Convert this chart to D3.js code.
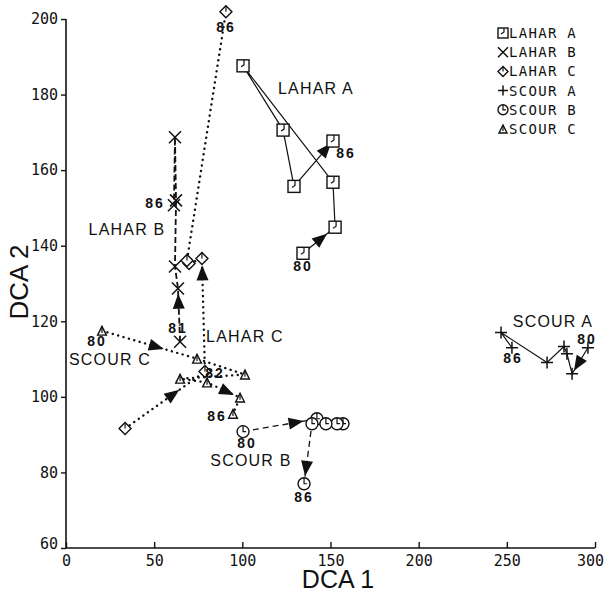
<!DOCTYPE html>
<html>
<head>
<meta charset="utf-8">
<script src="https://cdn.jsdelivr.net/npm/d3@7"></script>
<style>
  body { margin: 0; background: #fff; }
  svg { display: block; }
  text { fill: #111; }
</style>
</head>
<body>
<svg width="607" height="592"></svg>
<script>
const X_TICKS = [0, 50, 100, 150, 200, 250, 300]
const Y_TICKS = [60, 80, 100, 120, 140, 160, 180, 200]

// [year, DCA 1, DCA 2]
const laharA = [[80, 134.4, 138.0], [81, 152.6, 144.9], [82, 151.4, 156.8], [83, 100.4, 187.6],
  [84, 123.1, 170.6], [85, 129.3, 155.7], [86, 151.4, 167.7]]
const laharB = [[81, 64.7, 114.6], [82, 63.5, 128.7], [83, 61.8, 134.5], [84, 62.4, 152.0],
  [85, 61.8, 168.7], [86, 61.2, 150.7]]
const laharC = [[81, 33.5, 91.6], [82, 78.8, 106.7], [83, 77.1, 136.6], [84, 69.8, 135.3],
  [85, 68.6, 136.1], [86, 90.7, 201.9]]
const scourA = [[80, 296.0, 113.0], [81, 287.0, 106.1], [82, 284.1, 111.4], [83, 282.4, 113.3],
  [84, 272.8, 109.1], [85, 246.7, 117.0], [86, 252.9, 113.0]]
const scourB = [[80, 100.4, 90.8], [81, 142.3, 94.2], [82, 157.1, 92.9], [83, 153.7, 92.9],
  [84, 147.4, 92.9], [85, 139.5, 92.9], [86, 135.0, 77.0]]
const scourC = [[80, 20.4, 117.5], [81, 74.3, 110.1], [82, 101.5, 105.9], [83, 64.7, 104.8],
  [84, 80.0, 103.8], [85, 98.7, 99.8], [86, 94.7, 95.5]]

const NAMES = ['LAHAR A', 'LAHAR B', 'LAHAR C', 'SCOUR A', 'SCOUR B', 'SCOUR C']
const VALUES = [laharA, laharB, laharC, scourA, scourB, scourC]
// segments (by start index) that carry a direction arrow
const ARROWS = [[0, 5], [0], [0, 1], [0], [0, 5], [0, 4]]
// years written next to the points
const YEAR_LABELS = [[80, 86], [81, 86], [82, 86], [80, 86], [80, 86], [80, 86]]

// drawing options, not data
const STYLE = {
  'LAHAR A': { marker: 'square', dash: null, width: 1.2, name: [316, 94], arrowAt: [0.75, 0.95], years: { 80: [0, 13], 86: [13, 12] } },
  'LAHAR B': { marker: 'cross', dash: '6,3', width: 1.8, name: [127, 235], arrowAt: [0.9], years: { 81: [-2, -14], 86: [-19, -2] } },
  'LAHAR C': { marker: 'diamond', dash: '0.1,5.5', width: 2.4, name: [245, 342], arrowAt: [0.68, 0.94], years: { 82: [10, 1], 86: [0, 15] } },
  'SCOUR A': { marker: 'plus', dash: null, width: 1.2, name: [553, 327], arrowAt: [0.88], years: { 80: [-1, -9], 86: [1, 10] } },
  'SCOUR B': { marker: 'circle', dash: '6,4', width: 1.3, name: [251, 466], arrowAt: [0.82, 0.87], years: { 80: [4, 11], 86: [0, 13] } },
  'SCOUR C': { marker: 'triangle', dash: '0.1,5.5', width: 2.4, name: [110, 365], arrowAt: [0.65, 0.82], years: { 80: [-5, 10], 86: [-16, 2] } }
}

const svg = d3.select('svg')
const x = d3.scaleLinear().domain([0, 300]).range([66, 595])
const y = d3.scaleLinear().domain([60, 200]).range([548, 19])

const axisFont = '"DejaVu Sans Mono", monospace'
const textFont = 'Arial, "Liberation Sans", sans-serif'

// axes
const gx = svg.append('g')
  .attr('transform', `translate(0,${y(60)})`)
  .call(d3.axisBottom(x).tickValues(X_TICKS).tickSize(-6).tickPadding(7))
const gy = svg.append('g')
  .attr('transform', `translate(${x(0)},0)`)
  .call(d3.axisLeft(y).tickValues(Y_TICKS).tickSize(5).tickPadding(3))

for (const g of [gx, gy]) {
  g.select('.domain').attr('stroke', '#111').attr('stroke-width', 1.6)
  g.selectAll('.tick line').attr('stroke', '#111').attr('stroke-width', 1.4)
  g.selectAll('.tick text')
    .attr('fill', '#111')
    .style('font-family', axisFont)
    .style('font-size', '15px')
}
gy.select('.domain').attr('d', `M-0,${y(200)}V${y(60)}`)
gx.select('.domain').attr('d', `M${x(0)},0H${x(300)}`)
gy.selectAll('.tick text').filter(d => d === 60).attr('dy', '0.05em')
gx.selectAll('.tick text').filter(d => d === 300).attr('dx', '-5')

svg.append('text')
  .attr('x', 338).attr('y', 588)
  .attr('text-anchor', 'middle')
  .style('font-family', textFont)
  .style('font-size', '25px')
  .text('DCA 1')

svg.append('text')
  .attr('transform', 'translate(28,282) rotate(-90)')
  .attr('text-anchor', 'middle')
  .style('font-family', textFont)
  .style('font-size', '26px')
  .text('DCA 2')

// marker glyphs, centred on 0,0
function marker (g, type, s) {
  const h = s / 2
  const outline = sel => sel.attr('fill', 'white').attr('stroke', '#111').attr('stroke-width', 1.4)
  const tick = d => g.append('path').attr('d', d).attr('stroke', '#111').attr('fill', 'none').attr('stroke-width', 1.2)
  if (type === 'square') {
    outline(g.append('rect').attr('x', -h).attr('y', -h).attr('width', s).attr('height', s))
    tick(`M1,${-h}V-1L-2,1`)
  } else if (type === 'circle') {
    outline(g.append('circle').attr('r', h))
    tick(`M0,${-h}V0H3`)
  } else if (type === 'diamond') {
    outline(g.append('path').attr('d', `M0,${-h}L${h},0L0,${h}L${-h},0Z`))
    tick(`M0,${-h}V0`)
  } else if (type === 'triangle') {
    const t = s * 0.8
    outline(g.append('path').attr('d', `M0,${-t / 2}L${t / 2},${t / 2}L${-t / 2},${t / 2}Z`))
    tick(`M0,${-t / 2}V${t / 4}`)
  } else if (type === 'cross') {
    g.append('path').attr('d', `M${-h},${-h}L${h},${h}M${h},${-h}L${-h},${h}`)
      .attr('stroke', '#111').attr('stroke-width', 1.5)
  } else if (type === 'plus') {
    g.append('path').attr('d', `M${-h},0H${h}M0,${-h}V${h}`)
      .attr('stroke', '#111').attr('stroke-width', 1.5)
  }
}

const line = d3.line().x(d => x(d[1])).y(d => y(d[2]))
const plot = svg.append('g')

NAMES.forEach((name, i) => {
  const data = VALUES[i]
  const st = STYLE[name]
  const g = plot.append('g')

  g.append('path')
    .datum(data)
    .attr('d', line)
    .attr('fill', 'none')
    .attr('stroke', '#111')
    .attr('stroke-width', st.width)
    .attr('stroke-linecap', st.dash && st.dash.startsWith('0.1') ? 'round' : 'butt')
    .attr('stroke-dasharray', st.dash)

  // arrow heads along the chosen segments, tip at a fraction of the segment
  g.selectAll('.arrow')
    .data(ARROWS[i].map((k, j) => ({ a: data[k], b: data[k + 1], t: st.arrowAt[j] })))
    .enter().append('path')
    .attr('class', 'arrow')
    .attr('d', 'M0,0L-15,-6L-15,6Z')
    .attr('fill', '#111')
    .attr('transform', ({ a, b, t }) => {
      const x0 = x(a[1]); const y0 = y(a[2]); const x1 = x(b[1]); const y1 = y(b[2])
      const ang = Math.atan2(y1 - y0, x1 - x0) * 180 / Math.PI
      return `translate(${x0 + (x1 - x0) * t},${y0 + (y1 - y0) * t}) rotate(${ang})`
    })

  g.selectAll('.pt')
    .data(data)
    .enter().append('g')
    .attr('class', 'pt')
    .attr('transform', d => `translate(${x(d[1])},${y(d[2])})`)
    .each(function () { marker(d3.select(this), st.marker, st.marker === 'triangle' ? 11 : 12) })

  g.selectAll('.yr')
    .data(data.filter(d => YEAR_LABELS[i].includes(d[0])))
    .enter().append('text')
    .attr('x', d => x(d[1]) + st.years[d[0]][0])
    .attr('y', d => y(d[2]) + st.years[d[0]][1] + 5)
    .attr('text-anchor', 'middle')
    .style('font-family', textFont)
    .style('font-weight', 'bold')
    .style('font-size', '14px')
    .style('letter-spacing', '2px')
    .text(d => d[0])

  g.append('text')
    .attr('x', st.name[0]).attr('y', st.name[1])
    .attr('text-anchor', 'middle')
    .style('font-family', textFont)
    .style('font-size', '16px')
    .style('letter-spacing', '1.2px')
    .text(name)
})

// legend
const legend = svg.append('g').attr('transform', 'translate(503,33)')
NAMES.forEach((name, i) => {
  const row = legend.append('g').attr('transform', `translate(0,${i * 19.2})`)
  marker(row, STYLE[name].marker, 10)
  row.append('text')
    .attr('x', 6).attr('y', 5)
    .style('font-family', axisFont)
    .style('font-size', '14px')
    .style('letter-spacing', '1.3px')
    .text(name)
})
</script>
</body>
</html>
